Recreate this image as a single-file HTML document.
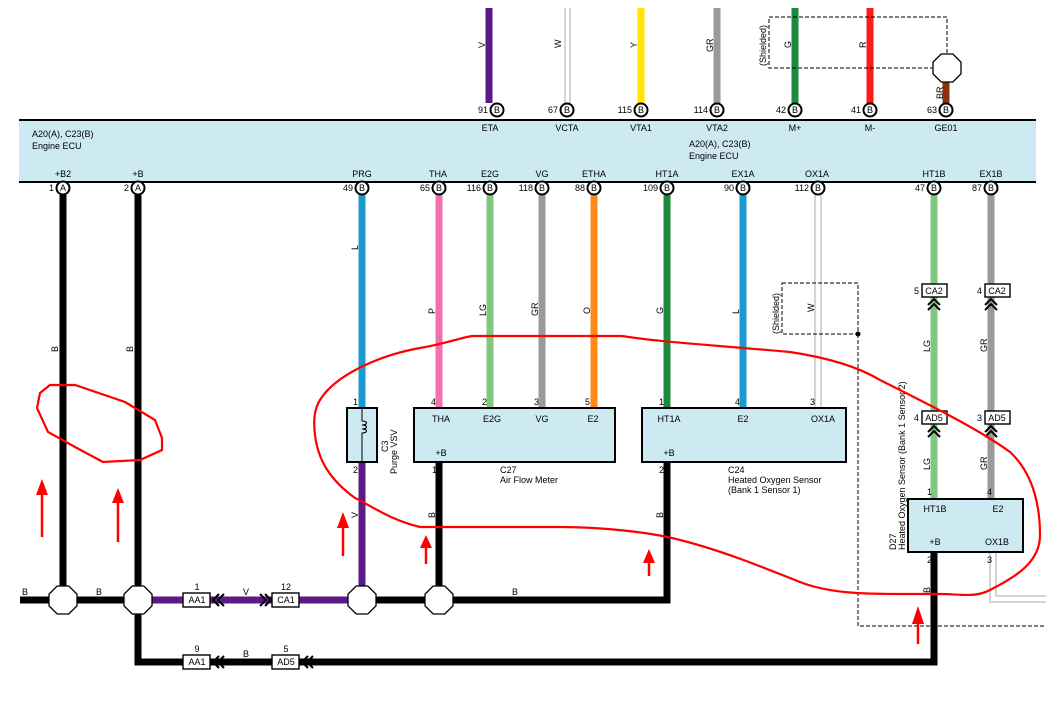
<!DOCTYPE html>
<html><head><meta charset="utf-8"><style>
html,body{margin:0;padding:0;background:#fff}
svg{display:block}
text{font-family:"Liberation Sans",Arial,sans-serif;font-size:9px;fill:#000}
</style></head><body>
<svg width="1060" height="722" viewBox="0 0 1060 722" xmlns="http://www.w3.org/2000/svg">
<defs>
<polygon id="oct" points="-5.8,-14 5.8,-14 14,-5.8 14,5.8 5.8,14 -5.8,14 -14,5.8 -14,-5.8" fill="#fff" stroke="#000" stroke-width="1.3"/>
</defs>
<rect x="19" y="120" width="1017" height="62" fill="#cdeaf2"/>
<line x1="19" y1="120" x2="1036" y2="120" stroke="#000" stroke-width="2"/>
<line x1="19" y1="182" x2="1036" y2="182" stroke="#000" stroke-width="2"/>
<text x="32" y="137">A20(A), C23(B)</text><text x="32" y="149">Engine ECU</text>
<text x="689" y="147">A20(A), C23(B)</text><text x="689" y="159">Engine ECU</text>

<g stroke-width="7">
<line x1="489" y1="8" x2="489" y2="103" stroke="#5b1a8a"/>
<line x1="641" y1="8" x2="641" y2="103" stroke="#ffe600"/>
<line x1="717" y1="8" x2="717" y2="103" stroke="#9a9a9a"/>
<line x1="795" y1="8" x2="795" y2="103" stroke="#1a8a3c"/>
<line x1="870" y1="8" x2="870" y2="103" stroke="#ff1a1a"/>
<line x1="946" y1="80" x2="946" y2="103" stroke="#8b3010"/>
</g>
<line x1="565" y1="8" x2="565" y2="103" stroke="#aaa" stroke-width="1"/>
<line x1="570" y1="8" x2="570" y2="103" stroke="#aaa" stroke-width="1"/>
<g font-size="9">
<text transform="translate(485,48) rotate(-90)">V</text>
<text transform="translate(561,48) rotate(-90)">W</text>
<text transform="translate(637,48) rotate(-90)">Y</text>
<text transform="translate(713,52) rotate(-90)">GR</text>
<text transform="translate(791,48) rotate(-90)">G</text>
<text transform="translate(866,48) rotate(-90)">R</text>
<text transform="translate(943,99) rotate(-90)">BR</text>
<text transform="translate(766,66) rotate(-90)">(Shielded)</text>
</g>
<polyline points="769,17 947,17 947,55" fill="none" stroke="#000" stroke-dasharray="4,2"/>
<polyline points="934,68 769,68 769,17" fill="none" stroke="#000" stroke-dasharray="4,2"/>
<use href="#oct" x="947" y="68"/>

<g fill="#fff" stroke="#000" stroke-width="2">
<circle cx="497" cy="110" r="6.5"/><circle cx="567" cy="110" r="6.5"/><circle cx="641" cy="110" r="6.5"/><circle cx="717" cy="110" r="6.5"/><circle cx="795" cy="110" r="6.5"/><circle cx="870" cy="110" r="6.5"/><circle cx="946" cy="110" r="6.5"/>
</g>
<g font-size="8" text-anchor="middle">
<text x="497" y="113">B</text><text x="567" y="113">B</text><text x="641" y="113">B</text><text x="717" y="113">B</text><text x="795" y="113">B</text><text x="870" y="113">B</text><text x="946" y="113">B</text>
</g>
<g font-size="9" text-anchor="end">
<text x="488" y="113">91</text><text x="558" y="113">67</text><text x="632" y="113">115</text><text x="708" y="113">114</text><text x="786" y="113">42</text><text x="861" y="113">41</text><text x="937" y="113">63</text>
</g>
<g font-size="9" text-anchor="middle">
<text x="490" y="131">ETA</text><text x="567" y="131">VCTA</text><text x="641" y="131">VTA1</text><text x="717" y="131">VTA2</text><text x="795" y="131">M+</text><text x="870" y="131">M-</text><text x="946" y="131">GE01</text>
<text x="63" y="177">+B2</text><text x="138" y="177">+B</text><text x="362" y="177">PRG</text><text x="438" y="177">THA</text><text x="490" y="177">E2G</text><text x="542" y="177">VG</text><text x="594" y="177">ETHA</text><text x="667" y="177">HT1A</text><text x="743" y="177">EX1A</text><text x="817" y="177">OX1A</text><text x="934" y="177">HT1B</text><text x="991" y="177">EX1B</text>
</g>

<g stroke-width="7" fill="none">
<line x1="63" y1="195" x2="63" y2="600" stroke="#000"/>
<line x1="138" y1="195" x2="138" y2="600" stroke="#000"/>
<line x1="362" y1="195" x2="362" y2="408" stroke="#1a9ad0"/>
<line x1="362" y1="462" x2="362" y2="600" stroke="#5b1a8a"/>
<line x1="439" y1="195" x2="439" y2="408" stroke="#f070b0"/>
<line x1="490" y1="195" x2="490" y2="408" stroke="#80c880"/>
<line x1="542" y1="195" x2="542" y2="408" stroke="#9a9a9a"/>
<line x1="594" y1="195" x2="594" y2="408" stroke="#ff8a1a"/>
<line x1="667" y1="195" x2="667" y2="408" stroke="#1a8a3c"/>
<line x1="743" y1="195" x2="743" y2="408" stroke="#1a9ad0"/>
<line x1="934" y1="195" x2="934" y2="499" stroke="#80c880"/>
<line x1="991" y1="195" x2="991" y2="499" stroke="#9a9a9a"/>
<line x1="439" y1="462" x2="439" y2="600" stroke="#000"/>
<polyline points="20,600 138,600" stroke="#000"/>
<polyline points="138,600 362,600" stroke="#5b1a8a"/>
<polyline points="362,600 667,600 667,462" stroke="#000"/>
<polyline points="138,600 138,662 934,662 934,552" stroke="#000"/>
</g>
<line x1="815" y1="195" x2="815" y2="408" stroke="#aaa" stroke-width="1"/>
<line x1="821" y1="195" x2="821" y2="408" stroke="#aaa" stroke-width="1"/>
<polyline points="990,552 990,602 1046,602" fill="none" stroke="#aaa" stroke-width="1"/>
<polyline points="996,552 996,596 1046,596" fill="none" stroke="#aaa" stroke-width="1"/>
<rect x="782" y="283" width="76" height="51" fill="none" stroke="#000" stroke-dasharray="4,2"/>
<polyline points="858,334 858,626 1046,626" fill="none" stroke="#000" stroke-dasharray="4,2"/>
<circle cx="858" cy="334" r="2.5" fill="#000"/>

<g fill="#fff" stroke="#000" stroke-width="2">
<circle cx="63" cy="188" r="6.5"/><circle cx="138" cy="188" r="6.5"/><circle cx="362" cy="188" r="6.5"/><circle cx="439" cy="188" r="6.5"/><circle cx="490" cy="188" r="6.5"/><circle cx="542" cy="188" r="6.5"/><circle cx="594" cy="188" r="6.5"/><circle cx="667" cy="188" r="6.5"/><circle cx="743" cy="188" r="6.5"/><circle cx="818" cy="188" r="6.5"/><circle cx="934" cy="188" r="6.5"/><circle cx="991" cy="188" r="6.5"/>
</g>
<g font-size="8" text-anchor="middle">
<text x="63" y="191">A</text><text x="138" y="191">A</text><text x="362" y="191">B</text><text x="439" y="191">B</text><text x="490" y="191">B</text><text x="542" y="191">B</text><text x="594" y="191">B</text><text x="667" y="191">B</text><text x="743" y="191">B</text><text x="818" y="191">B</text><text x="934" y="191">B</text><text x="991" y="191">B</text>
</g>
<g font-size="9" text-anchor="end">
<text x="54" y="191">1</text><text x="129" y="191">2</text><text x="353" y="191">49</text><text x="430" y="191">65</text><text x="481" y="191">116</text><text x="533" y="191">118</text><text x="585" y="191">88</text><text x="658" y="191">109</text><text x="734" y="191">90</text><text x="809" y="191">112</text><text x="925" y="191">47</text><text x="982" y="191">87</text>
</g>

<g font-size="9">
<text transform="translate(58,352) rotate(-90)">B</text>
<text transform="translate(133,352) rotate(-90)">B</text>
<text transform="translate(358,250) rotate(-90)">L</text>
<text transform="translate(435,314) rotate(-90)">P</text>
<text transform="translate(486,316) rotate(-90)">LG</text>
<text transform="translate(538,316) rotate(-90)">GR</text>
<text transform="translate(590,314) rotate(-90)">O</text>
<text transform="translate(663,314) rotate(-90)">G</text>
<text transform="translate(739,314) rotate(-90)">L</text>
<text transform="translate(814,312) rotate(-90)">W</text>
<text transform="translate(779,334) rotate(-90)">(Shielded)</text>
<text transform="translate(930,352) rotate(-90)">LG</text>
<text transform="translate(987,352) rotate(-90)">GR</text>
<text transform="translate(930,470) rotate(-90)">LG</text>
<text transform="translate(987,470) rotate(-90)">GR</text>
<text transform="translate(358,518) rotate(-90)">V</text>
<text transform="translate(435,518) rotate(-90)">B</text>
<text transform="translate(663,518) rotate(-90)">B</text>
<text transform="translate(930,593) rotate(-90)">B</text>
</g>

<rect x="347" y="408" width="30" height="54" fill="#cdeaf2" stroke="#000" stroke-width="2"/>
<path d="M362,408 V421 c6,0 6,4 0,4 c6,0 6,4 0,4 c6,0 6,4 0,4 V462" fill="none" stroke="#000"/>
<text x="353" y="405" font-size="9">1</text><text x="353" y="473" font-size="9">2</text>
<text transform="translate(388,452) rotate(-90)">C3</text>
<text transform="translate(397,474) rotate(-90)">Purge VSV</text>

<rect x="414" y="408" width="201" height="54" fill="#cdeaf2" stroke="#000" stroke-width="2"/>
<g text-anchor="middle"><text x="441" y="422">THA</text><text x="492" y="422">E2G</text><text x="542" y="422">VG</text><text x="593" y="422">E2</text><text x="441" y="456">+B</text></g>
<text x="431" y="405">4</text><text x="482" y="405">2</text><text x="534" y="405">3</text><text x="585" y="405">5</text><text x="432" y="473">1</text>
<text x="500" y="473">C27</text><text x="500" y="483">Air Flow Meter</text>

<rect x="642" y="408" width="204" height="54" fill="#cdeaf2" stroke="#000" stroke-width="2"/>
<g text-anchor="middle"><text x="669" y="422">HT1A</text><text x="743" y="422">E2</text><text x="823" y="422">OX1A</text><text x="669" y="456">+B</text></g>
<text x="659" y="405">1</text><text x="735" y="405">4</text><text x="810" y="405">3</text><text x="659" y="473">2</text>
<text x="728" y="473">C24</text><text x="728" y="483">Heated Oxygen Sensor</text><text x="728" y="493">(Bank 1 Sensor 1)</text>

<rect x="908" y="499" width="115" height="53" fill="#cdeaf2" stroke="#000" stroke-width="2"/>
<g text-anchor="middle"><text x="935" y="512">HT1B</text><text x="998" y="512">E2</text><text x="935" y="545">+B</text><text x="997" y="545">OX1B</text></g>
<text x="927" y="495">1</text><text x="987" y="495">4</text><text x="927" y="563">2</text><text x="987" y="563">3</text>
<text transform="translate(896,550) rotate(-90)">D27</text>
<text transform="translate(905,550) rotate(-90)">Heated Oxygen Sensor (Bank 1 Sensor 2)</text>

<g fill="#fff" stroke="#000" stroke-width="1.4">
<rect x="922" y="284" width="25" height="13"/><rect x="985" y="284" width="25" height="13"/>
<rect x="922" y="411" width="25" height="13"/><rect x="985" y="411" width="25" height="13"/>
</g>
<g text-anchor="middle" font-size="9"><text x="934" y="294">CA2</text><text x="997" y="294">CA2</text><text x="934" y="421">AD5</text><text x="997" y="421">AD5</text></g>
<text x="914" y="294">5</text><text x="977" y="294">4</text><text x="914" y="421">4</text><text x="977" y="421">3</text>
<g fill="none" stroke="#000" stroke-width="2">
<path d="M928,305 l6,-6 l6,6 M928,310 l6,-6 l6,6"/><path d="M985,305 l6,-6 l6,6 M985,310 l6,-6 l6,6"/>
<path d="M928,432 l6,-6 l6,6 M928,437 l6,-6 l6,6"/><path d="M985,432 l6,-6 l6,6 M985,437 l6,-6 l6,6"/>
</g>

<use href="#oct" x="63" y="600"/><use href="#oct" x="138" y="600"/><use href="#oct" x="362" y="600"/><use href="#oct" x="439" y="600"/>
<text x="22" y="595">B</text><text x="96" y="595">B</text><text x="512" y="595">B</text>

<g fill="#fff" stroke="#000" stroke-width="1.4">
<rect x="183" y="593" width="27" height="14"/><rect x="272" y="593" width="27" height="14"/>
<rect x="183" y="655" width="27" height="14"/><rect x="272" y="655" width="27" height="14"/>
</g>
<g text-anchor="middle"><text x="197" y="603">AA1</text><text x="286" y="603">CA1</text><text x="197" y="665">AA1</text><text x="286" y="665">AD5</text>
<text x="197" y="590">1</text><text x="286" y="590">12</text><text x="197" y="652">9</text><text x="286" y="652">5</text>
<text x="246" y="595">V</text><text x="246" y="657">B</text></g>
<g fill="none" stroke="#000" stroke-width="2">
<path d="M219,594 l-6,6 l6,6 M224,594 l-6,6 l6,6"/>
<path d="M265,594 l6,6 l-6,6 M260,594 l6,6 l-6,6"/>
<path d="M219,656 l-6,6 l6,6 M224,656 l-6,6 l6,6"/>
<path d="M308,656 l-6,6 l6,6 M313,656 l-6,6 l6,6"/>
</g>

<g fill="none" stroke="#ff0000" stroke-width="2.2">
<polygon points="50,385 75,385 125,402 155,420 162,438 162,450 140,460 103,462 75,447 48,432 37,408 40,393"/>
<path d="M320,400 C335,375 380,355 420,348 C440,345 460,338 472,336 L622,336 C660,342 700,344 790,352 C830,358 860,368 880,380 C930,405 980,430 1010,452 C1035,475 1040,510 1040,535 C1040,560 1020,575 990,590 C975,598 960,594 940,594 L900,594 C870,594 830,594 800,582 C760,566 720,550 680,540 C650,532 600,527 560,527 L420,527 C390,520 370,505 355,498 C330,480 318,460 315,435 C313,418 315,408 320,400 Z"/>
</g>
<g fill="#ff0000" stroke="#ff0000" stroke-width="2.5">
<line x1="42" y1="492" x2="42" y2="537"/><polygon points="36,495 42,479 48,495" stroke="none"/>
<line x1="118" y1="500" x2="118" y2="542"/><polygon points="112,503 118,488 124,503" stroke="none"/>
<line x1="343" y1="525" x2="343" y2="556"/><polygon points="337,528 343,512 349,528" stroke="none"/>
<line x1="426" y1="544" x2="426" y2="564"/><polygon points="420,548 426,535 432,548" stroke="none"/>
<line x1="649" y1="560" x2="649" y2="576"/><polygon points="643,563 649,549 655,563" stroke="none"/>
<line x1="918" y1="620" x2="918" y2="644"/><polygon points="912,624 918,606 924,624" stroke="none"/>
</g>
</svg>
</body></html>
